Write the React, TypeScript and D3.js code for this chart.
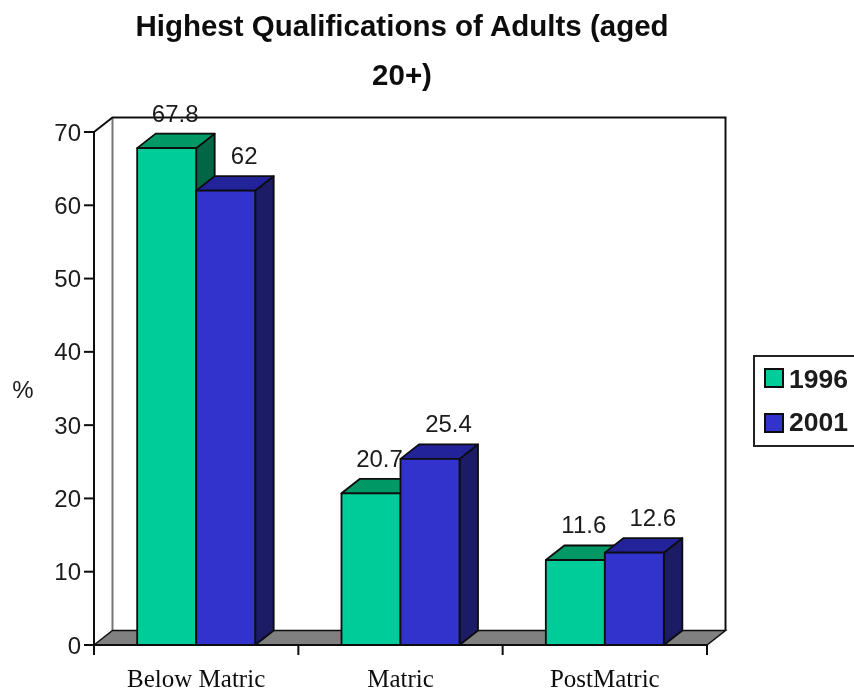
import * as d3 from "d3";

const categories = ["Below Matric", "Matric", "PostMatric"];
const seriesNames = ["1996", "2001"];
const values1996 = [67.8, 20.7, 11.6];
const values2001 = [62, 25.4, 12.6];
const valueLabels1996 = ["67.8", "20.7", "11.6"];
const valueLabels2001 = ["62", "25.4", "12.6"];
const yTicks = [0, 10, 20, 30, 40, 50, 60, 70];

const WIDTH = 854;
const HEIGHT = 692;
const left = 94;
const right = 707;
const bottom = 645;
const top = 132;
const depthX = 18.5;
const depthY = 14.5;
const barWidth = 59;

const palette = [
  { front: "#00cc99", topFace: "#009966", side: "#006644" },
  { front: "#3333cc", topFace: "#222299", side: "#1a1a66" },
];

const sans = "'Liberation Sans', Arial, sans-serif";
const serif = "'Liberation Serif', 'Times New Roman', serif";
const textColor = "#1a1a1a";

export default function App() {
  const y = d3.scaleLinear().domain([0, 70]).range([bottom, top]);
  const x0 = d3.scaleBand().domain(categories).range([left, right]);
  const x1 = d3
    .scaleBand()
    .domain(seriesNames)
    .range([x0.bandwidth() / 2 - barWidth, x0.bandwidth() / 2 + barWidth]);
  const allValues = [values1996, values2001];
  const allLabels = [valueLabels1996, valueLabels2001];
  const backTop = y(70) - depthY;
  const backBottom = bottom - depthY;

  // tick marks along the category axis, one per band edge
  const xTicks = [...categories.map((c) => x0(c) as number), right];

  return (
    <svg
      width={WIDTH}
      height={HEIGHT}
      viewBox={`0 0 ${WIDTH} ${HEIGHT}`}
      style={{ position: "absolute", left: 0, top: 0, background: "#fff" }}
    >
      <defs>
        <filter id="soft" x="-2%" y="-2%" width="104%" height="104%">
          <feGaussianBlur stdDeviation="0.55" />
        </filter>
      </defs>
      <g filter="url(#soft)">
        <g fontFamily={sans} fontWeight="bold" fontSize={29.5} fill="#111" textAnchor="middle">
          <text x={402} y={36}>Highest Qualifications of Adults (aged</text>
          <text x={402} y={85}>20+)</text>
        </g>

        {/* back wall */}
        <path
          d={`M${left + depthX},${backBottom}V${backTop}`}
          stroke="#777"
          strokeWidth={2}
          fill="none"
        />
        <path
          d={`M${left},${top}L${left + depthX},${backTop}H${right + depthX}V${backBottom}`}
          stroke="#111"
          strokeWidth={2}
          fill="none"
        />

        {/* floor */}
        <path
          d={`M${left},${bottom}L${left + depthX},${backBottom}H${right + depthX}L${right},${bottom}Z`}
          fill="#808080"
          stroke="#111"
          strokeWidth={1.5}
        />

        {/* axes */}
        <path d={`M${left},${top}V${bottom}H${right}`} stroke="#111" strokeWidth={2} fill="none" />
        {yTicks.map((t) => (
          <g key={t}>
            <line x1={left - 10} x2={left} y1={y(t)} y2={y(t)} stroke="#111" strokeWidth={2} />
            <text
              x={left - 13}
              y={y(t) + 8.5}
              textAnchor="end"
              fontFamily={sans}
              fontSize={24}
              fill={textColor}
            >
              {t}
            </text>
          </g>
        ))}
        {xTicks.map((t) => (
          <line key={t} x1={t} x2={t} y1={bottom} y2={bottom + 10} stroke="#111" strokeWidth={2} />
        ))}
        {categories.map((c) => (
          <text
            key={c}
            x={(x0(c) as number) + x0.bandwidth() / 2}
            y={687}
            textAnchor="middle"
            fontFamily={serif}
            fontSize={25}
            fill="#111"
          >
            {c}
          </text>
        ))}
        <text x={23} y={398} textAnchor="middle" fontFamily={sans} fontSize={24} fill={textColor}>
          %
        </text>

        {/* bars */}
        {categories.map((c, i) =>
          seriesNames.map((s, k) => {
            const bx = (x0(c) as number) + (x1(s) as number);
            const by = y(allValues[k][i]);
            const colors = palette[k];
            return (
              <g key={s + c} stroke="#0a0a0a" strokeWidth={1.8} strokeLinejoin="round">
                <path
                  d={`M${bx + barWidth},${bottom}V${by}l${depthX},${-depthY}V${backBottom}Z`}
                  fill={colors.side}
                />
                <path
                  d={`M${bx},${by}l${depthX},${-depthY}h${barWidth}l${-depthX},${depthY}Z`}
                  fill={colors.topFace}
                />
                <rect x={bx} y={by} width={barWidth} height={bottom - by} fill={colors.front} />
              </g>
            );
          })
        )}

        {/* value labels */}
        {categories.map((c, i) =>
          seriesNames.map((s, k) => (
            <text
              key={s + c}
              x={(x0(c) as number) + (x1(s) as number) + barWidth / 2 + depthX + (k === 0 ? -10 : 0)}
              y={y(allValues[k][i]) - depthY - 12}
              textAnchor="middle"
              fontFamily={sans}
              fontSize={24}
              fill={textColor}
            >
              {allLabels[k][i]}
            </text>
          ))
        )}

        {/* legend */}
        <rect x={754} y={356} width={110} height={90} fill="#fff" stroke="#222" strokeWidth={2} />
        {seriesNames.map((s, k) => (
          <g key={s}>
            <rect
              x={765}
              y={k === 0 ? 369 : 414}
              width={18}
              height={18}
              fill={palette[k].front}
              stroke="#111"
              strokeWidth={2}
            />
            <text
              x={789}
              y={k === 0 ? 388 : 431}
              fontFamily={sans}
              fontWeight="bold"
              fontSize={26.5}
              fill={textColor}
            >
              {s}
            </text>
          </g>
        ))}
      </g>
    </svg>
  );
}
